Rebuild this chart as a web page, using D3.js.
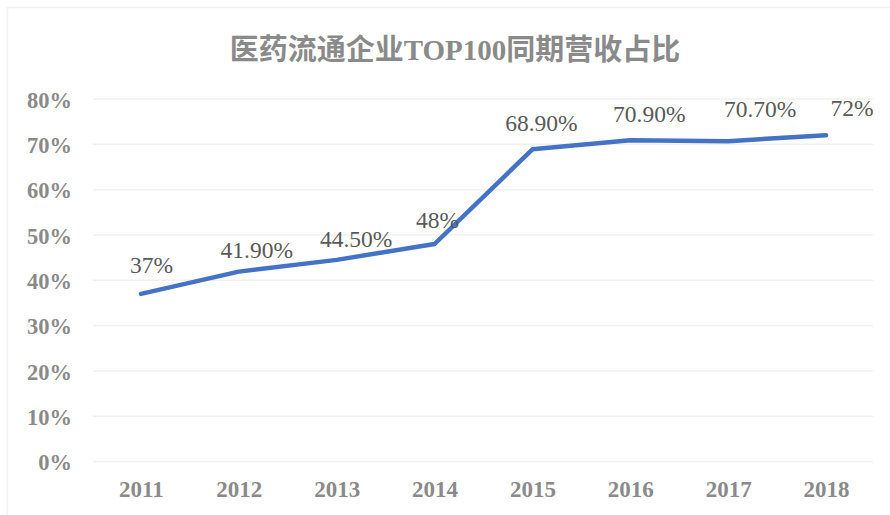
<!DOCTYPE html>
<html>
<head>
<meta charset="utf-8">
<script src="https://cdn.jsdelivr.net/npm/d3@7"></script>
<style>
html,body{margin:0;padding:0;background:#fff;}
svg{display:block;}
.lbl{font-family:"Liberation Serif","Times New Roman",serif;}
</style>
</head>
<body>
<svg id="chart" width="890" height="515"></svg>
<script>
const title = "医药流通企业TOP100同期营收占比";
const years = ["2011","2012","2013","2014","2015","2016","2017","2018"];
const shares = [37, 41.9, 44.5, 48, 68.9, 70.9, 70.7, 72];
const valueLabels = ["37%","41.90%","44.50%","48%","68.90%","70.90%","70.70%","72%"];
const yTicks = [0,10,20,30,40,50,60,70,80];

// label placement offsets (style, relative to each point)
const labelDx = [10.5, 18, 19.5, 3, 9, 19, 32, 26];
const labelDy = [-21, -13.6, -13, -16, -18, -18.6, -24.5, -19];

const svg = d3.select("#chart");
const serif = "'Liberation Serif','DejaVu Serif',serif";

// faint outer border
svg.append("rect").attr("x",7.5).attr("y",7.5).attr("width",900).attr("height",520)
  .attr("fill","none").attr("stroke","#f2f2f2").attr("stroke-width",1.5);

const x = d3.scalePoint().domain(years).range([92,875]).padding(0.5);
const y = d3.scaleLinear().domain([0,80]).range([461.5,99]);

// gridlines
svg.append("g").selectAll("line").data(yTicks).join("line")
  .attr("x1",93).attr("x2",873)
  .attr("y1",d=>y(d)).attr("y2",d=>y(d))
  .attr("stroke","#f0f0f0").attr("stroke-width",1.5);

// y axis labels
const yAxis = d3.axisLeft(y).tickValues(yTicks).tickFormat(d=>d+"%").tickSize(0).tickPadding(0);
const yg = svg.append("g").attr("transform","translate(72,0)").call(yAxis);
yg.select(".domain").remove();
yg.selectAll("text").attr("fill","#8a8a8a").attr("font-family",serif)
  .attr("font-weight","bold").attr("font-size","22.5px").attr("dy","0.37em");

// x axis labels
const xAxis = d3.axisBottom(x).tickSize(0).tickPadding(0);
const xg = svg.append("g").attr("transform","translate(0,497)").call(xAxis);
xg.select(".domain").remove();
xg.selectAll("text").attr("fill","#8a8a8a").attr("font-family",serif)
  .attr("font-weight","bold").attr("font-size","23px").attr("dy","0");

// line
const line = d3.line().x((d,i)=>x(years[i])).y(d=>y(d));
svg.append("path").datum(shares).attr("d",line)
  .attr("fill","none").attr("stroke","#4472c4").attr("stroke-width",4.5)
  .attr("stroke-linecap","round").attr("stroke-linejoin","round");

// data labels
svg.append("g").selectAll("text").data(shares).join("text")
  .attr("class","lbl")
  .attr("x",(d,i)=>x(years[i])+labelDx[i])
  .attr("y",(d,i)=>y(d)+labelDy[i])
  .attr("text-anchor","middle")
  .attr("fill","#595959").style("font-size","23.5px").style("font-weight","normal")
  .text((d,i)=>valueLabels[i]);

// title
svg.append("text").attr("x",455).attr("y",60).attr("text-anchor","middle")
  .attr("fill","#8a8a8a").attr("font-family","'Liberation Serif','Noto Sans CJK SC',serif")
  .attr("font-weight","bold").attr("font-size","29px")
  .text(title);
</script>
</body>
</html>
